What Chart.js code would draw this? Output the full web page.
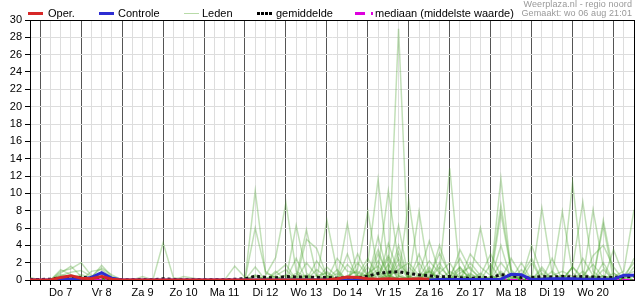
<!DOCTYPE html>
<html>
<head>
<meta charset="utf-8">
<script src="https://cdn.jsdelivr.net/npm/chart.js@4.4.1/dist/chart.umd.min.js"></script>
<style>
    body { margin: 0; background: #fff; font-family: "Liberation Sans", Arial, sans-serif; }
    #wrap { position: relative; width: 635px; height: 300px; }
    #wrap canvas { position: absolute; left: 0; top: 0; }
    .sw { position: absolute; height: 3px; }
    .lbl { position: absolute; top: 8px; font-size: 11px; line-height: 11px; color: #000; white-space: nowrap; }
    .src { position: absolute; right: 3px; font-size: 9px; line-height: 9px; color: #999; white-space: nowrap; letter-spacing: 0.1px; }
</style>
</head>
<body>
<div id="wrap">
    <canvas id="chart" width="635" height="300"></canvas>
    <div class="src" style="top:0px">Weerplaza.nl - regio noord</div>
    <div class="src" style="top:9px">Gemaakt: wo 06 aug 21:01</div>
</div>
<script>
// 6-hourly steps, starting wo 6 aug 18:00; day labels sit at noon
const dayLabels = ['Do 7', 'Vr 8', 'Za 9', 'Zo 10', 'Ma 11', 'Di 12', 'Wo 13', 'Do 14', 'Vr 15', 'Za 16', 'Zo 17', 'Ma 18', 'Di 19', 'Wo 20'];

const operValues = [0, 0,0,0.3,0.5, 0.2,0.15,0.4,0.1, 0,0,0,0, 0,0,0,0, 0,0,0,0, 0,0,0,0, 0,0,0,0, 0,0.15,0.35,0.3, 0.15,0.1,0.15,0.1, 0.1,0.15,0.1];
const controleValues = [0, 0,0,0.05,0.1, 0.1,0.3,0.85,0.2, 0,0,0,0, 0,0,0,0, 0,0,0,0, 0,0,0,0, 0,0,0,0, 0,0,0,0, 0,0,0,0, 0,0,0,0.05, 0.05,0.05,0.05,0.05, 0.05,0.1,0.65,0.6, 0.05,0.1,0.15,0.15, 0.15,0.1,0.1,0.1, 0.1,0.55,0.55];
const meanValues = [0.05, 0.05,0.1,0.25,0.3, 0.3,0.25,0.35,0.1, 0.02,0.02,0.05,0.02, 0.15,0.05,0.03,0.02, 0.02,0.02,0.02,0.08, 0.15,0.45,0.3,0.25, 0.4,0.35,0.35,0.3, 0.3,0.2,0.3,0.25, 0.45,0.75,0.9,0.95, 0.75,0.6,0.5,0.35, 0.4,0.25,0.2,0.3, 0.3,0.6,0.5,0.3, 0.3,0.4,0.35,0.4, 0.35,0.4,0.35,0.3, 0.3,0.35,0.45];
const medianValues = [0, 0,0,0,0, 0,0,0,0, 0,0,0,0, 0,0,0,0, 0,0,0,0, 0,0,0,0, 0,0,0,0, 0,0,0,0, 0,0,0,0, 0,0,0,0, 0,0,0,0, 0,0,0,0, 0,0,0,0, 0,0,0,0, 0,0,0];

const ledenValues = [
    [0.3, 0,0,1.2,0.6, 0.2,0,0,0, 0,0,0,0, 0,0,0,0, 0,0,0,0, 0,10.3,0.8,0.3, 0,0.4,0,0, 1.5,0.4,0,0, 2.0,11.6,1.2,0.5, 0,0,0.3,0, 1.0,0.3,0,0, 0,2.0,0.5,0, 0,0,0.4,0, 1.5,9.0,1.0,0, 0,0.5,1.0],
    [0.2, 0,0,0.8,1.6, 0.4,0,0.3,0, 0,0,0,0, 0,0,0,0, 0,0,0,0, 0,6.0,1.0,0.2, 0.5,0,0.3,0, 0,2.5,1.0,0.8, 0.3,0,0.5,29, 1.5,0.3,0,0, 0,0,0.6,0.2, 0.3,11.7,0.8,0, 0,0.3,0,0, 0,0.5,1.8,0.3, 0,0,0.4],
    [0, 0,0,1.0,1.3, 2.0,0.5,0,0, 0,0,0,0, 4.3,0.3,0,0, 0,0,0,0, 0,0,0.5,2.6, 8.9,1.0,0.3,0, 0,0,0.5,1.0, 0.4,1.2,10.3,2.0, 0.5,0,0,0.4, 0,0.5,0.3,0, 0,0,0.6,0, 0,8.3,0.8,0, 0,0.3,0,0.5, 0.2,0,0],
    [0.1, 0,0,0.5,0.9, 1.1,0.4,1.4,0.6, 0,0,0,0, 0,0,0,0, 0,0,0,1.6, 0.3,0,0,0, 0,6.3,0.8,0, 0.5,0,0.3,1.2, 7.9,0.8,0,0.3, 9.2,1.0,0,0, 0,1.2,0.4,0, 0,7.7,1.0,0, 0.3,0,0,0, 0,0,8.1,1.5, 0,0.3,0.6],
    [0, 0,0,0,0.3, 0.6,0.3,1.7,0.4, 0,0,0.4,0, 0,0,0,0, 0,0,0,0, 0,0.5,0,0, 0,0.3,5.8,0.5, 0,0,0,0.4, 0.6,0,1.0,6.3, 0,7.9,0.4,0, 0.3,0,0,0.8, 0,0,0.4,0, 4.0,0.6,0,0.3, 11.2,0.7,0,0, 0,0,0],
    [0, 0,0,0,0, 0,1.0,1.2,0.3, 0,0,0,0, 0,0,0.4,0.2, 0,0,0,0, 0,0,0,0.4, 0,0,4.7,3.65, 0.4,0,0,0, 0,0.5,2.5,0, 0,0.6,4.5,0.8, 12.9,0.5,0,0, 0,0.5,0.3,0, 0,0,0.5,1.0, 0.4,0,0,6.9, 0.8,0,0],
    [0, 0,0,0.4,0.3, 0.2,0,0.5,0, 0,0,0,0, 0,0,0,0, 0,0,0,0, 0,0,0,0, 0,0.8,0,0, 6.9,1.0,0,0.3, 0,0,0.8,0, 0,0,0.3,3.1, 0.6,0,0.3,6.0, 0.5,0,0,0, 0,0,0,0.6, 0,0,0,0, 0.4,1.0,8.1],
    [0, 0,0,0,0, 0,0,0,0, 0,0,0,0, 0,0,0,0, 0,0,0,0, 0.2,0,0,0, 0,0,0,0.5, 0.8,0,6.5,0.3, 0,0,0,0, 0.3,0,0,4.0, 0.5,2.5,0.3,0, 0,0.8,0,0, 0,0,0.4,7.9, 0.8,0,0,0, 3.5,0.5,0],
    [0, 0,0,0,0, 0,0,0,0, 0,0,0,0, 0,0,0,0, 0,0,0,0, 0,0,0.3,0, 0,0,0,0, 0,0,0,0, 0,0,0.5,0, 0,0,0,0, 0,0,0,0, 0.4,8.65,1.2,0, 0,0,0,0, 0.3,0,0,6.3, 0,0,0],
    [0, 0,0,0,0, 0,0,0,0, 0,0,0,0, 0,0,0,0, 0,0,0,0, 0,0,0,1.0, 0,0,0.5,0, 0,0.3,0,3.0, 0.5,0,0,0, 0,0,0,0, 0.4,1.5,0,0, 0,0,0,0, 0,0,2.5,0, 1.5,0,0,0.3, 0,0,0],
    [0, 0,0,0,0, 0,0,0,0, 0,0,0,0, 0,0,0,0, 0,0,0,0, 0,0,0,0, 0,0,0,0, 0,1.2,0,2.0, 0.5,3.5,0.4,1.2, 2.0,0.5,0,0, 0,0,0,0, 0,0,0,0, 0,0,0,0, 0,0,0,0, 0,0,0],
    [0, 0,0,0,0, 0,0,0,0, 0,0,0,0, 0,0,0,0, 0,0,0,0, 0,0,0.2,0, 0,0,2.0,0.5, 0,0,0,0.6, 2.5,0.5,0,4.0, 0,0.3,2.2,0.8, 0,0,2.0,0.5, 0,0,0,0, 0,0,1.0,0, 0,0,0,0, 0,0,0.6],
    [0, 0,0,0.6,0.4, 0,0,0.8,0.2, 0,0,0,0, 0,0,0,0, 0,0,0,0, 0,0,0,0, 0,0,0,1.2, 0.3,0,0,0, 1.5,0,0,0.4, 0,3.0,0,0, 0,0,0,0, 0,4.0,0,0, 0,0,0,0.5, 0,0,0,0, 0,0,0],
    [0, 0,0,0,0, 0,0,0,0, 0,0,0,0, 0,0,0,0, 0,0,0,0, 0,0,0,0, 0,0,0,0, 0,0,3.0,0, 0,1.0,0.3,0, 0,0,0,0, 0,0,0,0.5, 3.0,0.5,0,0, 0.5,0,0,0, 0,2.5,0.5,0, 0,0,0],
    [0, 0,0,0,0, 0,0,0,0, 0,0,0,0, 0,0,0,0, 0,0,0,0, 0,0,0,0, 0.6,0,0,0, 0,0,0,0, 0,0,0,0, 0,0.4,1.0,0, 0,3.5,1.2,0.3, 0,0,0,2.0, 0,0,0,0, 0,0,0,2.0, 0,0,0],
    [0, 0,0,0,0, 0,0,0,0, 0,0,0,0, 0,0,0,0, 0,0,0,0, 0,0,0,0, 0,0,0,0, 0,0,0,0, 0,5.0,0.5,0, 0.4,0,0,0, 0,0,0,0, 0,0,0,0.5, 2.5,0,0,0, 0,0,0.4,0, 0,0,0],
    [0, 0,0,0,0, 0,0,0,0, 0,0,0,0, 0,0,0,0, 0,0,0,0, 0,0,0,0, 0,0,0,0, 0,0,0,0.5, 0,0,0,2.5, 0,0,1.5,0, 0,0,0,0, 0,0,0,0, 0,0,0,0, 1.5,0.3,0,0, 0,0.5,2.0],
    [0, 0,0,0,0, 0,0,0,0, 0,0,0,0, 0,0,0,0, 0,0,0,0, 0,0.4,0,0.8, 1.8,0,0.6,0, 0,0,1.8,0.5, 0,0.8,2.8,0.5, 0,0,1.0,0, 0,0,0.8,0, 0,0,0,0, 0,1.2,0,0, 0,0,0.5,0, 0,0,0],
    [0, 0,0,0,0, 0,0,0,0, 0,0,0,0, 0,0,0,0, 0,0,0,0, 0,0,0,0, 0,0,0,2.2, 0.5,0,0,0, 0,3.0,0.6,0, 0,0,0,1.5, 0.3,0,0,0, 0,1.0,0,0, 0,0,0,0, 0,0,0,0, 0.8,0,0],
    [0, 0,0,0,0, 0,0,0,0, 0,0,0,0, 0,0,0,0, 0,0,0,0, 0,0.6,0,0, 0,0,0,0, 0,0,0,0, 0,0,0,0, 0,0,0,0, 0,0,3.0,1.5, 0.5,0,0,0, 0,0,0,0, 0,0,0,0, 0,0,2.5],
    [0, 0,0,0,0, 0,0,0,0, 0,0,0,0, 0,0,0,0, 0,0,0,0, 0,0,0,0, 0,0,0,0, 0,0,0,0, 0,0,4.2,0.8, 0,2.0,0,0, 0,0,0,0, 0,0,0,0, 0,0,0,0, 0,0,2.8,4.0, 1.5,0,0],
    [0, 0,0,0,0, 0,0,0,0, 0,0,0,0, 0,0,0,0, 0,0,0,0, 0,0,0,0, 0,0,0,0, 0,0,0,0, 0,0,0,1.8, 0,0,0,0.8, 2.0,0,0,0, 0,0,0,0, 0,0,0,0, 0,0,0,0.5, 0,0,0],
    [0, 0,0,0,0, 0,0,0,0, 0,0,0,0, 0,0,0,0, 0,0,0,0, 0,0,0,0.5, 1.2,0,0,0, 0,0.8,0,0, 0,0,1.8,0, 0,0,0,0, 0,0.8,1.5,0, 0,0,0,1.2, 0,0,0,0, 0,1.0,0,0, 0,0,0],
    [0, 0,0,0,0, 0,0,0,0, 0,0,0,0, 0,0,0,0, 0,0,0,0, 0,1.5,0,0, 0,0,0,0, 0,0,0,0, 0.8,1.6,0,0, 0,0,0,2.0, 0,0,0,0, 1.8,0,0,0, 0,0.8,0,0, 0,0,0,1.2, 0,0,1.5],
    [0, 0,0,0,0, 0,0,0,0, 0,0,0,0, 0,0,0,0, 0,0,0,0, 0,0,0,0, 0,2.5,0,0, 0,0,0,0, 0,0,0,3.2, 0,0,0,0, 0,1.5,0,0, 0,0,2.5,0.5, 0,1.5,0,0, 0,0,0,0, 0,0,0],
    [0, 0,0,0,0, 0,0,0,0, 0,0,0,0, 0,0,0,0, 0,0,0,0, 0,0,0,0, 0,0,0,0, 1.0,0,0,0, 0,2.2,0,0, 0,0,1.2,0, 0,0,0,0, 0,0,0,0, 2.0,0,0,0, 0,0,0,0, 0,0,0]
];

const seriesNames = ['Oper.', 'Controle', 'Leden', 'gemiddelde', 'mediaan (middelste waarde)'];
const operColor = 'rgb(214,40,40)';
const controleColor = 'rgb(45,45,210)';
const ledenColor = 'rgba(70,160,40,0.33)';
const medianColor = 'rgb(221,0,221)';

function toPoints(values) {
    return values.map((v, i) => ({ x: i, y: v }));
}

const legendItems = [
    { name: seriesNames[0], left: 28, text: 48, style: `background:${operColor}` },
    { name: seriesNames[1], left: 99, text: 118, style: `background:${controleColor}` },
    { name: seriesNames[2], left: 184, text: 202, style: 'background:#b8dba8;height:1px;top:13px' },
    { name: seriesNames[3], left: 257, text: 276, style: 'background:repeating-linear-gradient(90deg,#000 0 3px,transparent 3px 4px)' },
    { name: seriesNames[4], left: 355, text: 375, style: `width:18px;background:linear-gradient(90deg,${medianColor} 0 10px,transparent 10px 16px,${medianColor} 16px 18px)` },
];
const wrap = document.getElementById('wrap');
legendItems.forEach((item) => {
    const sw = document.createElement('div');
    sw.className = 'sw';
    sw.style.cssText = `left:${item.left}px;top:12px;width:15px;` + item.style;
    wrap.appendChild(sw);
    const lbl = document.createElement('div');
    lbl.className = 'lbl';
    lbl.style.left = item.text + 'px';
    lbl.textContent = item.name;
    wrap.appendChild(lbl);
});

const frame = {
    id: 'frame',
    beforeDatasetsDraw(chart) {
        const { ctx, chartArea: a } = chart;
        ctx.save();
        ctx.strokeStyle = '#000';
        ctx.lineWidth = 1;
        ctx.strokeRect(Math.round(a.left) + 0.5, Math.round(a.top) + 0.5, Math.round(a.right - a.left), Math.round(a.bottom - a.top));
        ctx.restore();
    },
};

Chart.defaults.font.family = '"Liberation Sans", Arial, sans-serif';
Chart.defaults.font.size = 10;
Chart.defaults.color = '#000';

const datasets = [
    { label: seriesNames[0], data: toPoints(operValues), borderColor: operColor, borderWidth: 3, order: 1 },
    { label: seriesNames[1], data: toPoints(controleValues), borderColor: controleColor, borderWidth: 3, order: 2 },
    { label: seriesNames[4], data: toPoints(medianValues), borderColor: medianColor, borderWidth: 2, borderDash: [8, 3, 2, 3], order: 3 },
    { label: seriesNames[3], data: toPoints(meanValues), borderColor: '#111', borderWidth: 3, borderDash: [3, 3], order: 4 },
    ...ledenValues.map((vals) => ({
        label: seriesNames[2], data: toPoints(vals), borderColor: ledenColor, borderWidth: 1.5, order: 10,
    })),
];

new Chart(document.getElementById('chart'), {
    type: 'line',
    data: { datasets },
    options: {
        responsive: false,
        animation: false,
        layout: { padding: { top: 20, right: 1, left: 0, bottom: 0 } },
        elements: { point: { radius: 0 }, line: { tension: 0, borderCapStyle: 'butt' } },
        plugins: { legend: { display: false }, tooltip: { enabled: false } },
        scales: {
            x: {
                type: 'linear',
                min: 0,
                max: meanValues.length - 1,
                afterBuildTicks: (scale) => { scale.ticks = meanValues.map((_, i) => ({ value: i })); },
                afterFit: (scale) => { scale.height = 20; },
                border: { color: '#000' },
                grid: {
                    color: (c) => ((c.tick && (c.tick.value - 1) % 4 === 0) ? '#555' : '#ddd'),
                    tickColor: '#000',
                    tickLength: 5,
                },
                ticks: {
                    autoSkip: false,
                    maxRotation: 0,
                    minRotation: 0,
                    padding: 1,
                    font: { size: 11 },
                    callback: (v) => ((v - 3) % 4 === 0 ? dayLabels[(v - 3) / 4] : ''),
                },
            },
            y: {
                min: 0,
                max: 30,
                afterFit: (scale) => { scale.width = 30; },
                border: { color: '#000' },
                grid: { color: '#ddd', tickColor: '#000', tickLength: 5 },
                ticks: { stepSize: 2, padding: 3, autoSkip: false, font: { size: 11 } },
            },
        },
    },
    plugins: [frame],
});
</script>
</body>
</html>
